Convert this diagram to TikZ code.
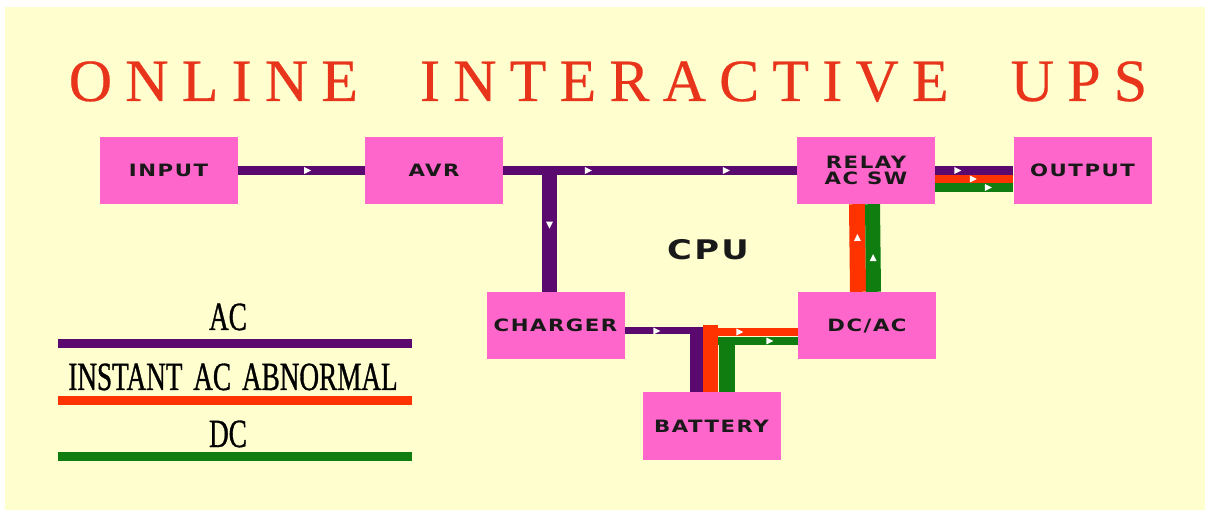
\documentclass[tikz,border=0pt]{standalone}
\usepackage{fontspec}
\usepackage{xcolor}
\usetikzlibrary{positioning,calc,decorations.markings}
\definecolor{uCream}{HTML}{FFFECE}
\definecolor{uPink}{HTML}{FF66CC}
\definecolor{uTitle}{HTML}{E8341A}
\definecolor{uAc}{HTML}{5A0A6E}
\definecolor{uAbn}{HTML}{FF3300}
\definecolor{uDc}{HTML}{0F7D0F}
\newfontfamily\blockfont[FakeStretch=1.25,LetterSpace=9]{DejaVu Sans}
\newfontfamily\titlefont[LetterSpace=22,WordSpace=2.2,FakeBold=0.4]{Liberation Serif}
\newfontfamily\keyfont[FakeStretch=0.68,WordSpace=1.6,FakeBold=0.8]{Liberation Serif}
\tikzset{
  blk/.style={fill=uPink, minimum width=138pt, minimum height=67pt, inner sep=0pt,
              align=center, text=black!90,
              font=\blockfont\bfseries\fontsize{17}{16.5}\selectfont},
  acline/.style={draw=uAc, line width=8.5pt},
  abnline/.style={draw=uAbn, line width=8.5pt},
  dcline/.style={draw=uDc, line width=8.5pt},
  % small white head sitting inside a line, #1 = position along it
  headat/.style={postaction={decorate, decoration={markings,
      mark=at position #1 with {\fill[white!96!uCream] (-3.5,-3.5) -- (3.5,0) -- (-3.5,3.5) -- cycle;}}}},
  keytext/.style={anchor=base, inner sep=0pt, text=black,
                  font=\keyfont\fontsize{40}{40}\selectfont},
  keybar/.style={minimum width=354pt, minimum height=9pt, inner sep=0pt},
}

\begin{document}
\begin{tikzpicture}[x=1pt, y=-1pt]

%% ── paper ─────────────────────────────────────────────────────────────────
\useasboundingbox[fill=white] (0,0) rectangle (1205,510);
\fill[uCream] (5,7) rectangle (1205,510);

\node[anchor=base, text=uTitle, inner sep=0pt,
      font=\titlefont\fontsize{60}{60}\selectfont] (title) at (608,101)
  {ONLINE INTERACTIVE UPS};

%% ── blocks ────────────────────────────────────────────────────────────────
\node[blk] (input)   at (168.5,170.5) {INPUT};
\node[blk] (avr)     at (434,170.5)   {AVR};
\node[blk] (relay)   at (866,170.5)   {RELAY\\AC SW};
\node[blk] (output)  at (1082.5,170.5){OUTPUT};
\node[blk] (charger) at (555.5,325.5) {CHARGER};
\node[blk] (dcac)    at (867,325.5)   {DC/AC};
\node[blk] (battery) at (711.5,426)   {BATTERY};
\node[inner sep=0pt, text=black!90,
      font=\blockfont\bfseries\fontsize{27}{27}\selectfont] (cpu) at (708,250) {CPU};

%% ── AC path along the top ─────────────────────────────────────────────────
\draw[acline, line width=9.5pt, headat=0.55] (input.east) -- (avr.west);
\draw[acline, line width=9.5pt, headat=0.29, headat=0.76] (avr.east) -- (relay.west);
\coordinate (tee) at (549.5,166);
\draw[acline, line width=15pt, headat=0.47] (tee) -- (tee |- charger.north);

%% ── relay to output, three feeds ──────────────────────────────────────────
\draw[acline, headat=0.29] (relay.east) -- (output.west);
\draw[abnline, headat=0.49] ([shift={(0,8.5)}]relay.east) -- ([shift={(0,8.5)}]output.west);
\draw[dcline, headat=0.68] ([shift={(0,17)}]relay.east) -- ([shift={(0,17)}]output.west);

%% ── inverter up into the relay ────────────────────────────────────────────
\draw[abnline, line width=16pt, headat=0.62] ([shift={(-9,0)}]dcac.north) -- ([shift={(-9,0)}]relay.south);
\draw[dcline, line width=15pt, headat=0.39] ([shift={(6.5,0)}]dcac.north) -- ([shift={(6.5,0)}]relay.south);

%% ── battery corner: charge in, discharge out ──────────────────────────────
\coordinate (pcorner) at (696.5,331);
\coordinate (rcorner) at (710.5,332);
\coordinate (gcorner) at (726.5,341);
\draw[acline, line width=7pt, headat=0.41] ([shift={(0,5.5)}]charger.east) -- ([shift={(6.5,0)}]pcorner);
\draw[acline, line width=13pt] ([shift={(0,-3.5)}]pcorner) -- (pcorner |- battery.north);
\draw[abnline, line width=8pt, headat=0.39] ([shift={(-7.5,0)}]rcorner) -- ([shift={(0,6.5)}]dcac.west);
\draw[abnline, line width=15pt] (rcorner |- battery.north) -- ([shift={(0,-7)}]rcorner);
\draw[dcline, line width=8pt, headat=0.65] ([shift={(-8.5,0)}]gcorner) -- ([shift={(0,15.5)}]dcac.west);
\draw[dcline, line width=16pt] (gcorner |- battery.north) -- ([shift={(0,-4)}]gcorner);

%% ── key ───────────────────────────────────────────────────────────────────
\node[keytext] (kac) at (228,330) {AC};
\node[keybar, fill=uAc] (kbar1) at (235,343.5) {};
\node[keytext] (kabn) at (233,390) {INSTANT AC ABNORMAL};
\node[keybar, fill=uAbn] (kbar2) at (235,401) {};
\node[keytext] (kdc) at (228,447) {DC};
\node[keybar, fill=uDc] (kbar3) at (235,456) {};

\end{tikzpicture}
\end{document}
